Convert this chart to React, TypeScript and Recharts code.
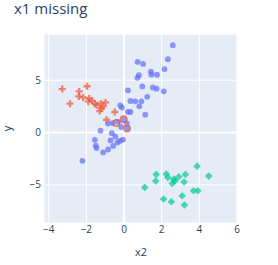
import { ScatterChart, Scatter, XAxis, YAxis, CartesianGrid, ReferenceLine } from "recharts"

// cluster values
const redX = [-3.28, -2.87, -1.96, -2.38, -2.4, -2.17, -1.85, -1.9, -1.7, -1.55, -1.45, -1.23, -0.98, -1.11, -1.2, -1.29, -0.49, -0.93]
const redY = [4.15, 2.76, 4.42, 3.93, 3.45, 3.35, 3.25, 2.95, 3.05, 2.75, 2.6, 2.78, 2.88, 2.5, 2.3, 2.05, 1.96, 1.22]

// red points drawn as open rings
const ringX = [-0.4, -0.02, 0.16]
const ringY = [0.91, 1.27, 0.38]

const blueX = [2.59, 2.33, 0.72, 1.01, 2.15, 1.43, 1.45, 1.75, 0.79, 0.71, 0.97, 1.53, 1.73, 2.11, 0.21, 1.23, 0.34, 0.6, 0.92, 0.81, -0.2, -0.11, 0.21, 0.34, 1.13,
  -0.85, -0.6, -0.32, 0.0, 0.15, -0.15, 0.18,
  -1.25, -0.65, -0.46, -0.72, -0.06, -0.22, -0.35, -1.55, -1.5, -1.46, -0.58, -0.85, -1.11, -2.21]
const blueY = [8.34, 7.01, 6.74, 6.55, 6.06, 5.81, 5.53, 5.52, 5.47, 5.22, 4.4, 4.3, 4.19, 3.94, 4.03, 3.41, 3.01, 2.98, 2.98, 2.5, 2.58, 2.38, 1.98, 1.96, 1.71,
  0.86, 0.9, 1.02, 1.25, 0.88, 0.53, 0.42,
  0.18, -0.06, -0.4, -0.75, -0.68, -0.8, -0.95, -0.7, -1.25, -1.48, -1.28, -1.62, -1.9, -2.7]

const greenX = [3.88, 4.5, 1.71, 2.24, 2.33, 2.65, 2.91, 3.26, 1.68, 2.56, 2.7, 3.19, 1.1, 3.69, 3.92, 3.09, 2.1, 2.51, 3.21]
const greenY = [-3.21, -4.16, -4.0, -3.97, -4.29, -4.45, -4.23, -4.0, -4.64, -4.86, -4.62, -4.73, -5.24, -5.56, -5.56, -6.04, -6.35, -6.61, -6.92]

const xTicks = [-4, -2, 0, 2, 4, 6]
const yTicks = [-5, 0, 5]

const toPoints = (xs: number[], ys: number[]) => xs.map((x, i) => ({ x, y: ys[i] }))

const BLUE = "#636efa"
const RED = "#EF553B"
const GREEN = "#00cc96"
const OPACITY = 0.7
const FONT = "'Open Sans', verdana, arial, sans-serif"
const TEXT = "#2a3f5f"

const Dot = (p: any) => <circle cx={p.cx} cy={p.cy} r={2.9} fill={BLUE} fillOpacity={OPACITY} />

const Plus = (p: any) => {
    const a = 1.15, b = 3.5
    const { cx, cy } = p
    const d = `M${cx + b},${cy + a}H${cx + a}V${cy + b}H${cx - a}V${cy + a}H${cx - b}V${cy - a}H${cx - a}V${cy - b}H${cx + a}V${cy - a}H${cx + b}Z`
    return <path d={d} fill={RED} fillOpacity={OPACITY} />
}

const Diamond = (p: any) => {
    const r = 3.8
    const { cx, cy } = p
    return <path d={`M${cx + r},${cy}L${cx},${cy + r}L${cx - r},${cy}L${cx},${cy - r}Z`} fill={GREEN} fillOpacity={OPACITY} />
}

const Ring = (p: any) => <circle cx={p.cx} cy={p.cy} r={3.2} fill="none" stroke={RED} strokeOpacity={0.8} strokeWidth={1.4} />

const fmt = (v: number) => String(v).replace("-", "\u2212")

export default function App() {
    const tick = { fill: TEXT, fontSize: 10, fontFamily: FONT }
    return (
        <div style={{ position: "absolute", left: 0, top: 0, width: 278, height: 265, background: "#fff", fontFamily: FONT, color: TEXT }}>
            <ScatterChart width={278} height={265} margin={{ top: 34, right: 41, left: 0, bottom: 0 }}>
                <CartesianGrid fill="#E5ECF6" stroke="#fff" strokeWidth={1} />
                <XAxis type="number" dataKey="x" domain={[-4.25, 6]} ticks={xTicks} allowDataOverflow
                    height={42} tickSize={0} tickMargin={3} axisLine={false} tick={tick} tickFormatter={fmt} />
                <YAxis type="number" dataKey="y" domain={[-8.64, 9.41]} ticks={yTicks} allowDataOverflow
                    width={44} tickSize={0} tickMargin={3} axisLine={false} tick={tick} tickFormatter={fmt} />
                <ReferenceLine x={0} stroke="#fff" strokeWidth={2} />
                <ReferenceLine y={0} stroke="#fff" strokeWidth={2} />
                <Scatter data={toPoints(blueX, blueY)} shape={Dot} isAnimationActive={false} />
                <Scatter data={toPoints(redX, redY)} shape={Plus} isAnimationActive={false} />
                <Scatter data={toPoints(ringX, ringY)} shape={Ring} isAnimationActive={false} />
                <Scatter data={toPoints(greenX, greenY)} shape={Diamond} isAnimationActive={false} />
            </ScatterChart>
            <div style={{ position: "absolute", left: 14, top: 1, fontSize: 15, lineHeight: "15px", whiteSpace: "nowrap" }}>x1 missing</div>
            <div style={{ position: "absolute", left: 121, width: 40, top: 246, fontSize: 11, lineHeight: "11px", textAlign: "center" }}>x2</div>
            <div style={{ position: "absolute", left: 1, width: 10, top: 122.5, fontSize: 11, lineHeight: "11px", textAlign: "center", transform: "rotate(-90deg)" }}>y</div>
        </div>
    )
}
